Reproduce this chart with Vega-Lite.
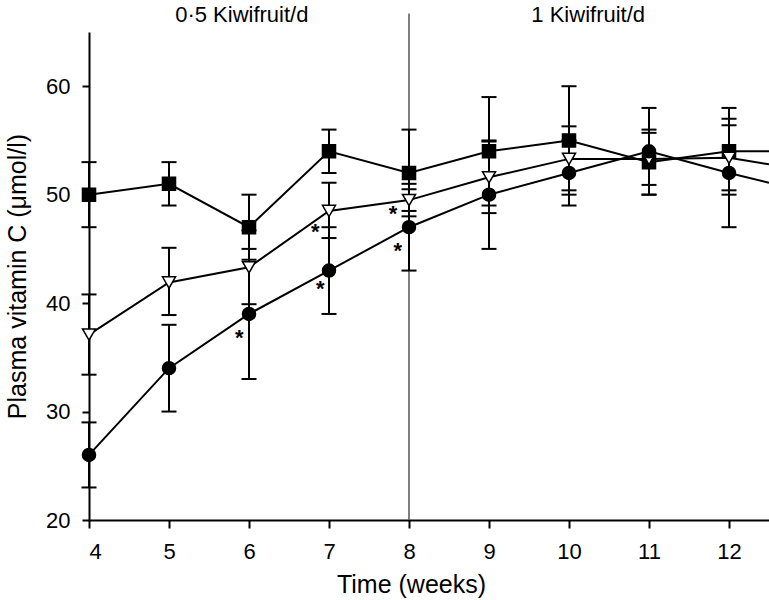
{
  "$schema": "https://vega.github.io/schema/vega-lite/v6.json",
  "width": 680,
  "height": 488,
  "autosize": {"type": "none"},
  "padding": {"left": 89, "top": 32, "right": 0, "bottom": 80},
  "background": "white",
  "config": {
    "view": {"stroke": null},
    "font": "Liberation Sans",
    "axis": {"grid": false, "domainColor": "black", "domainWidth": 2, "tickColor": "black", "tickWidth": 2, "labelColor": "black", "titleColor": "black", "labelFont": "Liberation Sans", "titleFont": "Liberation Sans", "titleFontWeight": "normal"}
  },
  "datasets": {
    "series": [
      {"week": 4, "group": "square", "value": 50, "lo": 47, "hi": 53},
      {"week": 5, "group": "square", "value": 51, "lo": 49, "hi": 53},
      {"week": 6, "group": "square", "value": 47, "lo": 44, "hi": 50},
      {"week": 7, "group": "square", "value": 54, "lo": 52, "hi": 56},
      {"week": 8, "group": "square", "value": 52, "lo": 48, "hi": 56},
      {"week": 9, "group": "square", "value": 54, "lo": 49, "hi": 59},
      {"week": 10, "group": "square", "value": 55, "lo": 50, "hi": 60},
      {"week": 11, "group": "square", "value": 53, "lo": 50, "hi": 56},
      {"week": 12, "group": "square", "value": 54, "lo": 50, "hi": 58},
      {"week": 12.5, "group": "square", "value": 54},
      {"week": 4, "group": "triangle", "value": 37.1, "lo": 33.4, "hi": 40.8},
      {"week": 5, "group": "triangle", "value": 41.9, "lo": 38.9, "hi": 45.1},
      {"week": 6, "group": "triangle", "value": 43.3, "lo": 39.9, "hi": 46.7},
      {"week": 7, "group": "triangle", "value": 48.5, "lo": 46, "hi": 51.1},
      {"week": 8, "group": "triangle", "value": 49.5, "lo": 48.5, "hi": 50.5},
      {"week": 9, "group": "triangle", "value": 51.6, "lo": 48.3, "hi": 54.9},
      {"week": 10, "group": "triangle", "value": 53.3, "lo": 50.4, "hi": 56.3},
      {"week": 11, "group": "triangle", "value": 53.3, "lo": 50.9, "hi": 55.7},
      {"week": 12, "group": "triangle", "value": 53.4, "lo": 50.4, "hi": 56.4},
      {"week": 12.5, "group": "triangle", "value": 52.8},
      {"week": 4, "group": "circle", "value": 26, "lo": 23, "hi": 29},
      {"week": 5, "group": "circle", "value": 34, "lo": 30, "hi": 38},
      {"week": 6, "group": "circle", "value": 39, "lo": 33, "hi": 45},
      {"week": 7, "group": "circle", "value": 43, "lo": 39, "hi": 47},
      {"week": 8, "group": "circle", "value": 47, "lo": 43, "hi": 51},
      {"week": 9, "group": "circle", "value": 50, "lo": 45, "hi": 55},
      {"week": 10, "group": "circle", "value": 52, "lo": 49, "hi": 55},
      {"week": 11, "group": "circle", "value": 54, "lo": 50, "hi": 58},
      {"week": 12, "group": "circle", "value": 52, "lo": 47, "hi": 57},
      {"week": 12.5, "group": "circle", "value": 51.1}
    ],
    "stars": [
      {"week": 5.88, "value": 37.2, "label": "*"},
      {"week": 6.83, "value": 47.05, "label": "*"},
      {"week": 6.89, "value": 41.8, "label": "*"},
      {"week": 7.8, "value": 48.7, "label": "*"},
      {"week": 7.86, "value": 45.3, "label": "*"}
    ],
    "phases": [
      {"week": 5.91, "value": 66.6, "label": "0·5 Kiwifruit/d"},
      {"week": 10.24, "value": 66.6, "label": "1 Kiwifruit/d"}
    ],
    "divider": [
      {"week": 8, "bottom": 20, "top": 66.7}
    ]
  },
  "layer": [
    {
      "data": {"name": "divider"},
      "mark": {"type": "rule", "color": "#555555", "strokeWidth": 1.5, "clip": false},
      "encoding": {
        "x": {"field": "week", "type": "quantitative", "scale": {"domain": [4, 12.5], "nice": false, "zero": false}},
        "y": {"field": "bottom", "type": "quantitative", "scale": {"domain": [20, 65], "nice": false, "zero": false}},
        "y2": {"field": "top"}
      }
    },
    {
      "data": {"name": "series"},
      "transform": [{"filter": "datum.week <= 12"}],
      "mark": {"type": "rule", "color": "black", "strokeWidth": 2},
      "encoding": {
        "x": {"field": "week", "type": "quantitative"},
        "y": {"field": "lo", "type": "quantitative"},
        "y2": {"field": "hi"}
      }
    },
    {
      "data": {"name": "series"},
      "transform": [{"filter": "datum.week <= 12"}],
      "mark": {"type": "tick", "orient": "horizontal", "color": "black", "size": 15, "thickness": 2, "opacity": 1},
      "encoding": {
        "x": {"field": "week", "type": "quantitative"},
        "y": {"field": "lo", "type": "quantitative"}
      }
    },
    {
      "data": {"name": "series"},
      "transform": [{"filter": "datum.week <= 12"}],
      "mark": {"type": "tick", "orient": "horizontal", "color": "black", "size": 15, "thickness": 2, "opacity": 1},
      "encoding": {
        "x": {"field": "week", "type": "quantitative"},
        "y": {"field": "hi", "type": "quantitative"}
      }
    },
    {
      "data": {"name": "series"},
      "mark": {"type": "line", "color": "black", "strokeWidth": 2},
      "encoding": {
        "x": {"field": "week", "type": "quantitative", "title": "Time (weeks)",
          "axis": {"values": [4, 5, 6, 7, 8, 9, 10, 11, 12], "format": "d", "labelFontSize": 22, "tickSize": 8, "labelPadding": 13, "titleFontSize": 25, "titleX": 322, "titleY": 72, "titleBaseline": "alphabetic", "titleAnchor": null, "titleAlign": "center"}},
        "y": {"field": "value", "type": "quantitative", "title": "Plasma vitamin C (μmol/l)",
          "axis": {"values": [20, 30, 40, 50, 60], "labelFontSize": 22, "tickSize": 7, "labelPadding": 12, "titleFontSize": 25, "titleX": -64, "titleY": 244, "titleAngle": -90, "titleBaseline": "alphabetic", "titleAlign": "center"}},
        "detail": {"field": "group"}
      }
    },
    {
      "data": {"name": "series"},
      "transform": [{"filter": "datum.week <= 12"}],
      "mark": {"type": "point", "filled": false, "stroke": "black", "strokeWidth": 1.5, "opacity": 1, "size": 170},
      "encoding": {
        "x": {"field": "week", "type": "quantitative"},
        "y": {"field": "value", "type": "quantitative"},
        "shape": {"field": "group", "type": "nominal", "legend": null, "scale": {"domain": ["square", "triangle", "circle"], "range": ["square", "triangle-down", "circle"]}},
        "fill": {"field": "group", "type": "nominal", "legend": null, "scale": {"domain": ["square", "triangle", "circle"], "range": ["black", "white", "black"]}}
      }
    },
    {
      "data": {"name": "stars"},
      "mark": {"type": "text", "fontSize": 22, "fontWeight": "bold", "color": "black", "align": "center", "baseline": "alphabetic", "dy": 12},
      "encoding": {
        "x": {"field": "week", "type": "quantitative"},
        "y": {"field": "value", "type": "quantitative"},
        "text": {"field": "label"}
      }
    },
    {
      "data": {"name": "phases"},
      "mark": {"type": "text", "fontSize": 22, "color": "black", "align": "center", "baseline": "middle", "clip": false},
      "encoding": {
        "x": {"field": "week", "type": "quantitative"},
        "y": {"field": "value", "type": "quantitative"},
        "text": {"field": "label"}
      }
    }
  ]
}
